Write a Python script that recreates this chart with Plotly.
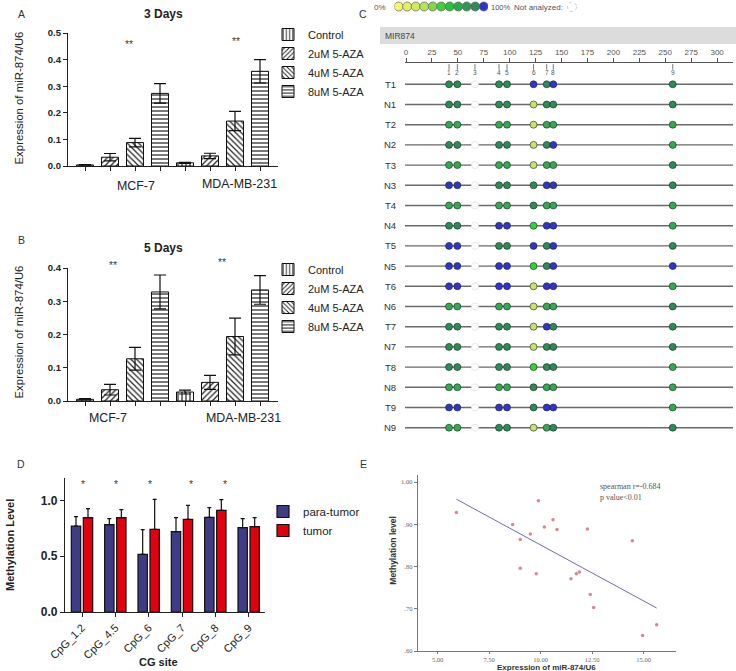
import numpy as np
import plotly.graph_objects as go

W, H = 736, 671
FONT = "Liberation Sans, Arial, sans-serif"
NARROW = "Liberation Sans Narrow, Liberation Sans, Arial, sans-serif"
SERIF = "Liberation Serif, Times New Roman, serif"

# ---------------- data ----------------
cell_lines = ["MCF-7", "MDA-MB-231"]
treatments = ["Control", "2uM 5-AZA", "4uM 5-AZA", "8uM 5-AZA"]

day3_mcf7_mean = [0.004, 0.033, 0.088, 0.273]
day3_mcf7_sd = [0.001, 0.014, 0.016, 0.037]
day3_mda_mean = [0.012, 0.038, 0.169, 0.356]
day3_mda_sd = [0.002, 0.010, 0.036, 0.044]

day5_mcf7_mean = [0.005, 0.034, 0.127, 0.328]
day5_mcf7_sd = [0.002, 0.016, 0.034, 0.051]
day5_mda_mean = [0.027, 0.056, 0.194, 0.334]
day5_mda_sd = [0.006, 0.021, 0.055, 0.043]

# panel C: CpG sites of MIR874 (position in bp) and methylation class per sample
site_labels = ["1", "2", "3", "4", "5", "6", "7", "8", "9"]
site_pos = [41.5, 49.5, 66.5, 89.7, 97.4, 123.0, 135.7, 142.0, 257.2]
site_analyzed = [True, True, False, True, True, True, True, True, True]
samples = ["T1", "N1", "T2", "N2", "T3", "N3", "T4", "N4", "T5",
           "N5", "T6", "N6", "T7", "N7", "T8", "N8", "T9", "N9"]
# classes for analyzed sites 1,2,4,5,6,7,8,9 ; D dark green, M mid green,
# G bright green, Y yellow-green, B blue (100%)
site_class = ["DDDDBDBD", "DDDDYDDD", "MMMMYMMM", "DDDDYDBM", "MMMMYMMD",
              "BBDDDBBD", "MMMMDMMM", "DDBBGBBM", "BBDDBDBD", "BBBBGDBB",
              "BBBBYBBM", "MMMMYMMD", "DDDDYBDD", "DDDDYDDD", "DDDDGDDM",
              "MMMMDMMM", "BBBBDBBM", "MMDDYMDD"]
class_colors = {"D": "#2E8B57", "M": "#35A851", "G": "#2FD62F",
                "Y": "#C8E36B", "B": "#3333CC"}
scale_colors = ["#F5F56A", "#E3F063", "#CFEA5E", "#B5E35A", "#7ED84A", "#3ECF3A",
                "#2CC13C", "#2BAA48", "#2E9A50", "#2E8B57", "#3232CC"]
ruler_ticks = list(range(0, 301, 25))

# panel D
cpg_sites = ["CpG_1.2", "CpG_4.5", "CpG_6", "CpG_7", "CpG_8", "CpG_9"]
para_mean = [0.770, 0.782, 0.516, 0.719, 0.848, 0.755]
para_sd = [0.084, 0.054, 0.221, 0.126, 0.086, 0.081]
tumor_mean = [0.845, 0.845, 0.740, 0.830, 0.910, 0.764]
tumor_sd = [0.080, 0.071, 0.269, 0.125, 0.096, 0.081]
significant = [True, True, True, True, True, False]

# panel E
expr_x = [5.91, 8.64, 9.01, 9.50, 9.89, 10.18, 10.60, 10.79, 12.27, 14.45,
          9.01, 9.79, 11.47, 11.73, 11.88, 12.41, 12.57, 14.95, 15.63]
meth_y = [0.928, 0.900, 0.864, 0.877, 0.956, 0.894, 0.911, 0.888, 0.889, 0.861,
          0.796, 0.783, 0.771, 0.783, 0.787, 0.734, 0.703, 0.637, 0.662]


def xd(a, b):
    return [a / W, b / W]


def yd(top, bottom):
    return [1 - bottom / H, 1 - top / H]


def px(x):
    return x / W


def py(y):
    return 1 - y / H


fig = go.Figure()
patterns = ["|", "/", "\\", "-"]


def add_day(means, sds, xa, ya, legend):
    for k, t in enumerate(treatments):
        fig.add_trace(go.Bar(
            x=list(range(len(cell_lines))),
            y=[m[k] for m in means],
            error_y=dict(type="data", array=[s[k] for s in sds], color="#111",
                         thickness=1.2, width=6),
            width=0.17, offset=(k - 1.5) * 0.25 - 0.085,
            marker=dict(color="white", line=dict(color="#111", width=1),
                        pattern=dict(shape=patterns[k], fgcolor="#222", bgcolor="white",
                                     size=4, solidity=0.3)),
            name=t, xaxis=xa, yaxis=ya, legend=legend))


add_day([day3_mcf7_mean, day3_mda_mean], [day3_mcf7_sd, day3_mda_sd], "x", "y", "legend")
add_day([day5_mcf7_mean, day5_mda_mean], [day5_mcf7_sd, day5_mda_sd], "x2", "y2", "legend2")

# ---- panel C ----
cx, cy, cc = [], [], []
for i, row in enumerate(site_class):
    k = 0
    for j, ok in enumerate(site_analyzed):
        if ok:
            cx.append(site_pos[j])
            cy.append(i)
            cc.append(class_colors[row[k]])
            k += 1
na_x = [site_pos[j] for j, ok in enumerate(site_analyzed) if not ok]
fig.add_trace(go.Scatter(
    x=[x for x in na_x for _ in samples], y=[i for _ in na_x for i in range(len(samples))],
    mode="markers", marker=dict(size=7, color="white", line=dict(color="#e2e2e2", width=0.8)),
    xaxis="x3", yaxis="y3", showlegend=False, hoverinfo="skip"))
fig.add_trace(go.Scatter(
    x=cx, y=cy, mode="markers",
    marker=dict(size=7, color=cc, line=dict(color="rgba(20,40,30,0.75)", width=0.8)),
    xaxis="x3", yaxis="y3", showlegend=False))
fig.add_trace(go.Scatter(
    x=site_pos, y=[-0.86] * len(site_pos), mode="markers",
    marker=dict(symbol="line-ns", size=4, line=dict(color="#777", width=1)),
    xaxis="x3", yaxis="y3", showlegend=False, hoverinfo="skip"))
fig.add_trace(go.Scatter(
    x=list(range(len(scale_colors))), y=[0] * len(scale_colors), mode="markers",
    marker=dict(size=9, color=scale_colors, line=dict(color="#666", width=0.7)),
    xaxis="x6", yaxis="y6", showlegend=False, hoverinfo="skip"))

# ---- panel D ----
fig.add_trace(go.Bar(
    x=list(range(len(cpg_sites))), y=para_mean, name="para-tumor",
    marker=dict(color="#3E3C84", line=dict(color="#111", width=1.2)),
    error_y=dict(type="data", symmetric=False, array=para_sd, arrayminus=[0] * len(para_sd),
                 color="#111", thickness=1.2, width=2),
    xaxis="x4", yaxis="y4", legend="legend3"))
fig.add_trace(go.Bar(
    x=list(range(len(cpg_sites))), y=tumor_mean, name="tumor",
    marker=dict(color="#E0000E", line=dict(color="#111", width=1.2)),
    error_y=dict(type="data", symmetric=False, array=tumor_sd, arrayminus=[0] * len(tumor_sd),
                 color="#111", thickness=1.2, width=2),
    xaxis="x4", yaxis="y4", legend="legend3"))

# ---- panel E ----
fig.add_trace(go.Scatter(
    x=expr_x, y=meth_y, mode="markers",
    marker=dict(size=3.5, color="#D9888C"), xaxis="x5", yaxis="y5", showlegend=False))
slope, intercept = np.polyfit(expr_x, meth_y, 1)
fx = np.array([min(expr_x), max(expr_x)])
fig.add_trace(go.Scatter(
    x=fx, y=slope * fx + intercept, mode="lines",
    line=dict(color="#6E6FA6", width=1), xaxis="x5", yaxis="y5", showlegend=False))

# ---------------- layout ----------------
shapes = []
annotations = []


def ann(text, x, y, size, xref="paper", yref="paper", xanchor="center", yanchor="middle",
        color="#222", family=FONT, bold=False, angle=0):
    annotations.append(dict(
        text=text, x=x, y=y, xref=xref, yref=yref, xanchor=xanchor, yanchor=yanchor,
        showarrow=False, textangle=angle,
        font=dict(size=size, color=color, family=family, weight="bold" if bold else "normal")))


bar_ticks = [g + (k - 1.5) * 0.25 for g in range(len(cell_lines)) for k in range(len(treatments))]
axis_common = dict(showline=True, linecolor="#222", linewidth=1.3, ticks="outside",
                   ticklen=4, tickcolor="#222", tickwidth=1.2, showgrid=False, zeroline=False,
                   automargin=False)
plain = dict(showgrid=False, zeroline=False, automargin=False)

layout = dict(
    template="none",
    width=W, height=H, margin=dict(l=0, r=0, t=0, b=0, pad=0, autoexpand=False),
    paper_bgcolor="white", plot_bgcolor="white",
    barmode="group", bargap=0.28, bargroupgap=0.22,
    font=dict(family=FONT, color="#222"),
    xaxis=dict(domain=xd(68, 278), range=[-0.545, 1.555], tickvals=bar_ticks,
               showticklabels=False, anchor="y", **axis_common),
    yaxis=dict(domain=yd(33, 166), range=[0, 0.5], dtick=0.1, tickformat=".1f", anchor="x",
               tickfont=dict(size=9.5, weight="bold", family=FONT), **axis_common),
    xaxis2=dict(domain=xd(68, 278), range=[-0.545, 1.555], tickvals=bar_ticks,
                showticklabels=False, anchor="y2", **axis_common),
    yaxis2=dict(domain=yd(268, 401), range=[0, 0.4], dtick=0.1, tickformat=".1f", anchor="x2",
                tickfont=dict(size=9.5, weight="bold", family=FONT), **axis_common),
    xaxis3=dict(domain=xd(405, 733), range=[-0.96, 315.3], side="top", anchor="y3",
                tickvals=ruler_ticks, showline=True, linecolor="#555", linewidth=1,
                ticks="outside", ticklen=4, tickcolor="#555",
                tickfont=dict(size=8, color="#555", family=NARROW), **plain),
    yaxis3=dict(domain=yd(63, 440), range=[17.61, -1.054], visible=False, anchor="x3", **plain),
    xaxis4=dict(domain=xd(65, 265), range=[-0.51, 5.49], tickvals=list(range(len(cpg_sites))),
                ticktext=cpg_sites, tickangle=-45, anchor="y4",
                tickfont=dict(size=11, family=FONT, color="#222"), **axis_common),
    yaxis4=dict(domain=yd(478, 612), range=[0, 1.2], tickvals=[0, 0.5, 1.0], tickformat=".1f",
                anchor="x4", tickfont=dict(size=12, weight="bold", family=FONT), **axis_common),
    xaxis5=dict(domain=xd(417.7, 676), range=[4.03, 16.57], tickvals=[5, 7.5, 10, 12.5, 15],
                ticktext=["5.00", "7.50", "10.00", "12.50", "15.00"], anchor="y5",
                showline=True, linecolor="#777", linewidth=1, ticks="outside", ticklen=2,
                tickcolor="#777", tickfont=dict(size=6.5, color="#666", family=SERIF), **plain),
    yaxis5=dict(domain=yd(475, 651), range=[0.6, 1.017], tickvals=[0.6, 0.7, 0.8, 0.9, 1.0],
                ticktext=[".60", ".70", ".80", ".90", "1.00"], anchor="x5",
                showline=True, linecolor="#777", linewidth=1, ticks="outside", ticklen=3,
                tickcolor="#777", tickfont=dict(size=6.5, color="#666", family=SERIF), **plain),
    xaxis6=dict(domain=xd(394.45, 487.95), range=[-0.5, 10.5], visible=False, anchor="y6", **plain),
    yaxis6=dict(domain=yd(0.5, 12.5), range=[-1, 1], visible=False, anchor="x6", **plain),
    legend=dict(x=px(268), y=py(20), xanchor="left", yanchor="top", bgcolor="rgba(0,0,0,0)",
                borderwidth=0, font=dict(size=11, family=FONT, color="#222")),
    legend2=dict(x=px(268), y=py(255), xanchor="left", yanchor="top", bgcolor="rgba(0,0,0,0)",
                 borderwidth=0, font=dict(size=11, family=FONT, color="#222")),
    legend3=dict(x=px(263), y=py(497), xanchor="left", yanchor="top", bgcolor="rgba(0,0,0,0)",
                 borderwidth=0, font=dict(size=11.5, family=FONT, color="#222")),
)

# panel letters
for letter, (lx, ly) in {"A": (21, 14), "B": (21, 240), "C": (363, 14),
                         "D": (21, 464), "E": (363, 464)}.items():
    ann(letter, px(lx), py(ly), 10.5, color="#333")

# panel A / B titles, axis titles, group labels, stars
ann("3 Days", px(163), py(14), 12, bold=True)
ann("5 Days", px(163), py(248), 12, bold=True)
ann("Expression of miR-874/U6", px(18), py(98.5), 11.4, angle=-90)
ann("Expression of miR-874/U6", px(18), py(332.5), 11.4, angle=-90)
for i, (name, sh) in enumerate(zip(cell_lines, [0.135, 0.165])):
    ann(name, i + sh, py(186 - 2 * i), 12.4, xref="x")
for i, (name, sh) in enumerate(zip(cell_lines, [-0.145, 0.205])):
    ann(name, i + sh, py(418), 12.4, xref="x2")
for i, (sh, ty) in enumerate(zip([0.065, 0.135], [44, 41])):
    ann("**", i + sh, py(ty), 10.5, xref="x", color="#444")
for i, (sh, ty) in enumerate(zip([-0.095, -0.005], [265, 262])):
    ann("**", i + sh, py(ty), 10.5, xref="x2", color="#444")

# panel C decorations
shapes.append(dict(type="rect", xref="paper", yref="paper", x0=px(380), x1=1,
                   y0=py(44), y1=py(27), fillcolor="#DCDCDC", line=dict(width=0), layer="below"))
ann("MIR874", px(383), py(35.5), 8.5, xanchor="left", color="#444", family=NARROW)
ann("0%", px(388), py(7), 8, xanchor="right", color="#555", family=NARROW)
ann("100%", px(489), py(7), 7.5, xanchor="left", color="#555", family=NARROW)
ann("Not analyzed:", px(512), py(7), 8, xanchor="left", color="#555", family=NARROW)
shapes.append(dict(type="circle", xref="paper", yref="paper", x0=px(567.5), x1=px(576.5),
                   y0=py(11.5), y1=py(2), line=dict(color="#bbb", width=0.8, dash="dot")))
for i, s in enumerate(samples):
    shapes.append(dict(type="line", xref="x3 domain", yref="y3", x0=0, x1=1, y0=i, y1=i,
                       line=dict(color="#6A6A6A", width=1.4), layer="below"))
    ann(s, px(398), i, 9.5, yref="y3", xanchor="right", color="#333", family=NARROW)
for lab, pos in zip(site_labels, site_pos):
    ann(lab, pos, -0.58, 6.5, xref="x3", yref="y3", color="#555", family=NARROW)

# panel D texts
ann("Methylation Level", px(10), py(545), 11, angle=-90, bold=True)
ann("CG site", px(158), py(662), 11, bold=True)
star_shift = [0.02, 0.02, 0.05, 0.28, 0.3, 0.0]
for i, (sig, sh) in enumerate(zip(significant, star_shift)):
    if sig:
        ann("*", i + sh, 1.15, 10.5, xref="x4", yref="y4", color="#444")

# panel E texts
ann("Expression of miR-874/U6", px(546.7), py(667.5), 8, bold=True, color="#333")
ann("Methylation level", px(392.7), py(550), 8.5, bold=True, color="#333", angle=-90)
ann("spearman r=-0.684", px(598), py(486.7), 8, xanchor="left", color="#555", family=SERIF)
ann("p value&lt;0.01", px(598), py(497.5), 8, xanchor="left", color="#555", family=SERIF)

layout["shapes"] = shapes
layout["annotations"] = annotations
fig.update_layout(**layout)
fig.write_html("out.html", config={"displayModeBar": False},
               post_script="document.body.style.margin='0px';")
